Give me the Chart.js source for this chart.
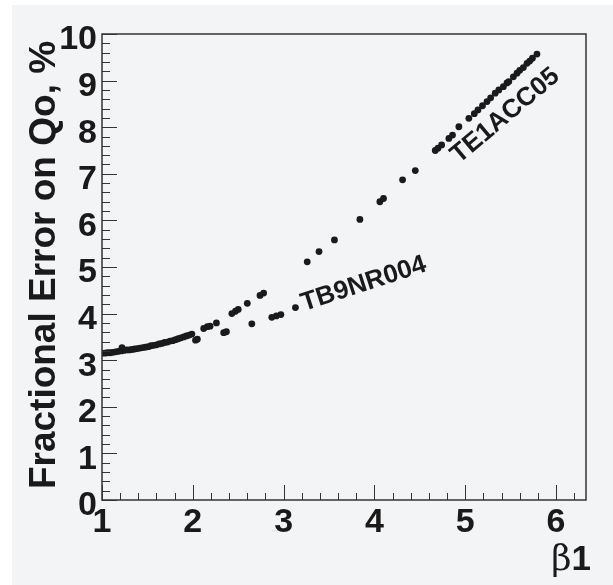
<!DOCTYPE html>
<html>
<head>
<meta charset="utf-8">
<script src="https://cdn.jsdelivr.net/npm/chart.js@4"></script>
<style>
  body { margin: 0; background: #ffffff; }
  canvas { display: block; }
</style>
</head>
<body>
<canvas id="c" width="613" height="585"></canvas>
<script>
// tick labels
var xTicks = [1, 2, 3, 4, 5, 6];
var yTicks = [0, 1, 2, 3, 4, 5, 6, 7, 8, 9, 10];

// TB9NR004 (lower branch, dense at low beta)
var tb9X = [1.00, 1.03, 1.06, 1.09, 1.12, 1.15, 1.18, 1.21, 1.22, 1.24, 1.27, 1.30, 1.33, 1.36, 1.39,
            1.42, 1.45, 1.48, 1.51, 1.54, 1.57, 1.60, 1.63, 1.66, 1.69, 1.72, 1.75, 1.78, 1.81,
            1.84, 1.87, 1.90, 1.93, 1.96, 1.99, 2.03, 2.05, 2.34, 2.37, 2.65, 2.87, 2.92, 2.97, 3.13];
var tb9Y = [3.15, 3.15, 3.16, 3.16, 3.17, 3.18, 3.19, 3.20, 3.27, 3.21, 3.22, 3.22, 3.23, 3.24, 3.25,
            3.26, 3.27, 3.28, 3.29, 3.31, 3.32, 3.33, 3.35, 3.36, 3.38, 3.39, 3.41, 3.42, 3.44,
            3.46, 3.48, 3.50, 3.52, 3.54, 3.56, 3.43, 3.45, 3.59, 3.61, 3.78, 3.92, 3.95, 3.98, 4.13];

// TE1ACC05 (upper branch)
var te1X = [2.12, 2.16, 2.19, 2.26, 2.43, 2.47, 2.50, 2.60, 2.74, 2.78, 3.26, 3.39, 3.56, 3.84,
            4.06, 4.10, 4.31, 4.45, 4.67, 4.70, 4.74, 4.82, 4.86, 4.93, 5.04, 5.10, 5.14, 5.19,
            5.24, 5.28, 5.33, 5.37, 5.42, 5.46, 5.48, 5.53, 5.57, 5.60, 5.64, 5.68, 5.71, 5.74, 5.79];
var te1Y = [3.68, 3.72, 3.73, 3.80, 4.00, 4.05, 4.09, 4.22, 4.39, 4.44, 5.11, 5.33, 5.58, 6.02,
            6.40, 6.47, 6.87, 7.07, 7.50, 7.55, 7.62, 7.76, 7.83, 8.01, 8.19, 8.29, 8.37, 8.46,
            8.55, 8.63, 8.73, 8.80, 8.87, 8.95, 8.98, 9.08, 9.16, 9.22, 9.28, 9.37, 9.42, 9.48, 9.57];

function pts(xs, ys) {
    return xs.map(function(x, i) { return { x: x, y: ys[i] }; });
}

var FONT = '"Liberation Sans", Arial, Helvetica, sans-serif';
var INK = '#1a1a1a';

// background, frame, inner ticks, titles and labels (ROOT-style)
var rootStyle = {
    id: 'rootStyle',
    beforeDraw: function(chart) {
        var ctx = chart.ctx;
        ctx.save();
        ctx.fillStyle = '#f3f4f6';
        ctx.fillRect(12, 5, chart.width - 12, chart.height - 5);
        ctx.restore();
    },
    afterDraw: function(chart) {
        var ctx = chart.ctx, a = chart.chartArea;
        var xs = chart.scales.x, ys = chart.scales.y;
        ctx.save();
        ctx.strokeStyle = '#333333';
        ctx.lineWidth = 1.5;
        ctx.strokeRect(a.left, a.top, a.right - a.left, a.bottom - a.top);

        ctx.lineWidth = 1;
        ctx.beginPath();
        // y ticks, drawn inwards
        for (var v = ys.min; v <= ys.max + 1e-6; v += 0.2) {
            var py = Math.round(ys.getPixelForValue(v)) + 0.5;
            var major = Math.abs(v - Math.round(v)) < 1e-6;
            ctx.moveTo(a.left, py);
            ctx.lineTo(a.left + (major ? 15 : 8), py);
        }
        // x ticks, drawn inwards
        for (var u = xs.min; u <= xs.max + 1e-6; u += 0.2) {
            var px = Math.round(xs.getPixelForValue(u)) + 0.5;
            var maj = Math.abs(u - Math.round(u)) < 1e-6;
            ctx.moveTo(px, a.bottom);
            ctx.lineTo(px, a.bottom - (maj ? 15 : 7));
        }
        ctx.stroke();

        ctx.fillStyle = INK;
        // y axis title
        ctx.save();
        ctx.translate(55, 265);
        ctx.rotate(-Math.PI / 2);
        ctx.font = 'bold 37px ' + FONT;
        ctx.textAlign = 'center';
        ctx.textBaseline = 'alphabetic';
        ctx.fillText('Fractional Error on Qo, %', 0, 0);
        ctx.restore();

        // x axis title: beta regular, 1 bold
        ctx.textBaseline = 'alphabetic';
        ctx.textAlign = 'right';
        ctx.font = 'bold 35px ' + FONT;
        var w1 = ctx.measureText('1').width;
        ctx.fillText('1', 591, 570);
        ctx.font = '35px "DejaVu Serif", "Liberation Serif", serif';
        ctx.fillText('\u03b2', 591 - w1, 570);

        // series labels
        ctx.font = 'bold 26px ' + FONT;
        ctx.textAlign = 'left';
        ctx.save();
        ctx.translate(304, 311);
        ctx.rotate(-18 * Math.PI / 180);
        ctx.fillText('TB9NR004', 0, 0);
        ctx.restore();
        ctx.save();
        ctx.translate(459, 164);
        ctx.rotate(-40 * Math.PI / 180);
        ctx.fillText('TE1ACC05', 0, 0);
        ctx.restore();

        ctx.restore();
    }
};

var ctx = document.getElementById('c').getContext('2d');
var chart = new Chart(ctx, {
    type: 'scatter',
    data: {
        datasets: [
            { label: 'TB9NR004', data: pts(tb9X, tb9Y), pointRadius: 3.4, pointBackgroundColor: INK, pointBorderWidth: 0 },
            { label: 'TE1ACC05', data: pts(te1X, te1Y), pointRadius: 3.4, pointBackgroundColor: INK, pointBorderWidth: 0 }
        ]
    },
    options: {
        responsive: false,
        animation: false,
        events: [],
        layout: { padding: { top: 34, right: 27, left: 0, bottom: 0 } },
        plugins: { legend: { display: false }, tooltip: { enabled: false } },
        scales: {
            x: {
                type: 'linear',
                min: 1,
                max: 6.33,
                afterFit: function(s) { s.height = 85; },
                afterBuildTicks: function(s) { s.ticks = xTicks.map(function(v) { return { value: v }; }); },
                grid: { display: false, drawTicks: false },
                border: { display: false },
                ticks: {
                    autoSkip: false,
                    maxRotation: 0,
                    padding: 2,
                    color: INK,
                    font: { family: FONT, size: 34, weight: 'bold' }
                }
            },
            y: {
                type: 'linear',
                min: 0,
                max: 10,
                afterFit: function(s) { s.width = 102; },
                afterBuildTicks: function(s) { s.ticks = yTicks.map(function(v) { return { value: v }; }); },
                grid: { display: false, drawTicks: false },
                border: { display: false },
                ticks: {
                    autoSkip: false,
                    padding: 5,
                    labelOffset: 6,
                    color: INK,
                    font: { family: FONT, size: 34, weight: 'bold' }
                }
            }
        }
    },
    plugins: [rootStyle]
});
</script>
</body>
</html>
